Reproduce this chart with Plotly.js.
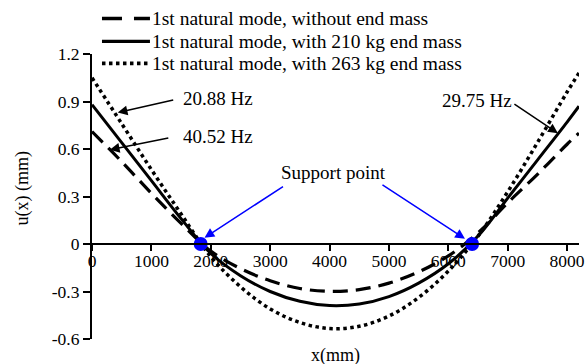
<!DOCTYPE html>
<html><head><meta charset="utf-8">
<script src="https://cdn.plot.ly/plotly-3.0.1.min.js"></script>
<style>html,body{margin:0;padding:0;background:#fff}</style>
</head><body><div id="chart" style="width:586px;height:364px"></div>
<script>
const xPos = [0,500,1000,1500,2000,2500,3000,3500,4000,4500,5000,5500,6000,6500,7000,7500,8000,8200];
const uNoMass = [0.71,0.52,0.32,0.13,-0.045,-0.155,-0.232,-0.281,-0.299,-0.288,-0.247,-0.176,-0.075,0.07,0.26,0.44,0.63,0.70];
const u210 = [0.88,0.64,0.40,0.16,-0.06,-0.20,-0.30,-0.362,-0.389,-0.379,-0.332,-0.247,-0.125,0.05,0.29,0.53,0.77,0.87];
const u263 = [1.05,0.76,0.47,0.19,-0.08,-0.27,-0.41,-0.496,-0.534,-0.52,-0.455,-0.338,-0.171,0.05,0.33,0.64,0.96,1.08];
const supportX = [1830, 6400];
const supportY = [0, 0];
const seriesNames = ['1st natural mode, without end mass','1st natural mode, with 210 kg end mass','1st natural mode, with 263 kg end mass'];
const yTickVals = [-0.6,-0.3,0,0.3,0.6,0.9,1.2];
const yTickText = ['-0.6','-0.3','0','0.3','0.6','0.9','1.2'];
const xTickVals = [0,1000,2000,3000,4000,5000,6000,7000,8000];
const xTickText = ['0','1000','2000','3000','4000','5000','6000','7000','8000'];

const FONT = 'Liberation Serif, Times New Roman, serif';
const dashes = ['15px,8px', 'solid', '3.5px,3.5px'];
const widths = [3.2, 3, 3.5];
const series = [uNoMass, u210, u263];
const traces = series.map((s, i) => ({x:xPos, y:s, name:seriesNames[i], mode:'lines', showlegend:false,
  line:{color:'#000', width:widths[i], dash:dashes[i], shape:'spline', smoothing:1}}));
traces.push({x:supportX, y:supportY, mode:'markers', showlegend:false, marker:{color:'#0000ff', size:14}});

// manual legend (paper coords)
const legY = [1.125, 1.044, 0.967];
const legendDash = ['20px,12px', 'solid', '3.5px,3.5px'];
const shapes = legY.map((y, i) => ({type:'line', xref:'paper', yref:'paper', x0:0.0205, x1:0.119, y0:y, y1:y,
  line:{color:'#000', width:widths[i] + 0.3, dash:legendDash[i]}}));
const legendAnn = legY.map((y, i) => ({xref:'paper', yref:'paper', x:0.1195, y:y, xanchor:'left', yanchor:'middle',
  text:seriesNames[i], showarrow:false, font:{family:FONT, size:19.5, color:'#000'}}));

const arrowBase = {showarrow:true, arrowhead:2, arrowsize:1.3, arrowwidth:1.5, text:'', xref:'x', yref:'y'};
const layout = {
  width:586, height:364,
  margin:{l:92, r:7, t:54, b:25},
  paper_bgcolor:'#fff', plot_bgcolor:'#fff',
  font:{family:FONT, size:18, color:'#000'},
  showlegend:false,
  xaxis:{range:[0,8200], anchor:'free', position:1/3, showline:true, linecolor:'#000', linewidth:2,
    ticks:'outside', ticklen:6, tickwidth:2, tickcolor:'#000', tickvals:xTickVals, ticktext:xTickText, ticklabelstandoff:-5,
    showgrid:false, zeroline:false, tickfont:{family:FONT, size:17.5, color:'#000'}},
  yaxis:{range:[-0.6,1.2], showline:true, linecolor:'#000', linewidth:2, ticks:'outside', ticklen:7, tickwidth:2, tickcolor:'#000',
    tickvals:yTickVals, ticktext:yTickText, showgrid:false, zeroline:false, tickfont:{family:FONT, size:17.5, color:'#000'}},
  shapes: shapes,
  annotations:[
    {xref:'paper', yref:'paper', x:0, y:0.5, xanchor:'center', yanchor:'middle', xshift:-70, yshift:8, text:'u(x) (mm)', textangle:-90, showarrow:false, font:{family:FONT, size:18}},
    {xref:'paper', yref:'paper', x:0.5, y:0, xanchor:'center', yanchor:'middle', yshift:-16, text:'x(mm)', showarrow:false, font:{family:FONT, size:18}},
    {xref:'paper', yref:'paper', x:0.259, y:0.843, xanchor:'center', yanchor:'middle', text:'20.88 Hz', showarrow:false, font:{family:FONT, size:19}},
    {xref:'paper', yref:'paper', x:0.259, y:0.709, xanchor:'center', yanchor:'middle', text:'40.52 Hz', showarrow:false, font:{family:FONT, size:19}},
    {xref:'paper', yref:'paper', x:0.79, y:0.836, xanchor:'center', yanchor:'middle', text:'29.75 Hz', showarrow:false, font:{family:FONT, size:19}},
    {xref:'paper', yref:'paper', x:0.495, y:0.583, xanchor:'center', yanchor:'middle', text:'Support point', showarrow:false, font:{family:FONT, size:19}},
    Object.assign({}, arrowBase, {x:433, y:0.83, ax:57, ay:-13, arrowcolor:'#000'}),
    Object.assign({}, arrowBase, {x:300, y:0.595, ax:60, ay:-12, arrowcolor:'#000'}),
    Object.assign({}, arrowBase, {x:7845, y:0.70, ax:-45, ay:-30, arrowcolor:'#000'}),
    Object.assign({}, arrowBase, {x:1894, y:0.04, ax:80, ay:-52, arrowcolor:'#0000ff'}),
    Object.assign({}, arrowBase, {x:6280, y:0.033, ax:-84, ay:-55, arrowcolor:'#0000ff'})
  ].concat(legendAnn)
};
Plotly.newPlot('chart', traces, layout, {displayModeBar:false, staticPlot:true});
</script></body></html>
